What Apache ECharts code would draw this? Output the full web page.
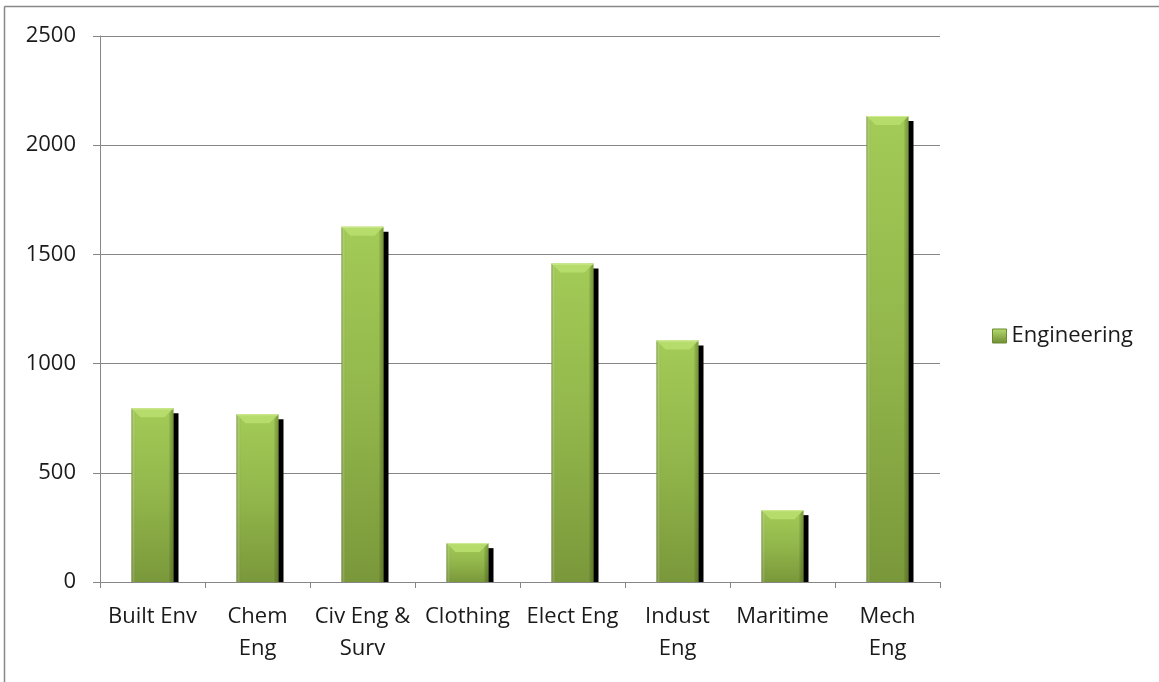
<!DOCTYPE html>
<html>
<head>
<meta charset="utf-8">
<title>Engineering</title>
<script src="https://cdn.jsdelivr.net/npm/echarts@6/dist/echarts.min.js"></script>
<style>
  html, body { margin: 0; padding: 0; background: #fff; }
  #main { width: 1159px; height: 682px; }
</style>
</head>
<body>
<div id="main"></div>
<script>
// data
var categories = ['Built Env', 'Chem\nEng', 'Civ Eng &\nSurv', 'Clothing', 'Elect Eng', 'Indust\nEng', 'Maritime', 'Mech\nEng'];
var values = [795, 768, 1627, 178, 1458, 1106, 329, 2134];
var seriesName = 'Engineering';

var chart = echarts.init(document.getElementById('main'));
var font = 'Open Sans';

// bar body: light green at the top fading to olive at the base
var bodyFill = new echarts.graphic.LinearGradient(0, 0, 0, 1, [
  { offset: 0, color: '#a3cb57' },
  { offset: 0.5, color: '#92b64b' },
  { offset: 1, color: '#7a983a' }
]);
// darker left / right edges laid over the body
var edgeFill = new echarts.graphic.LinearGradient(0, 0, 1, 0, [
  { offset: 0, color: 'rgba(60,80,20,0.45)' },
  { offset: 0.06, color: 'rgba(255,255,255,0.12)' },
  { offset: 0.12, color: 'rgba(0,0,0,0)' },
  { offset: 0.88, color: 'rgba(0,0,0,0)' },
  { offset: 1, color: 'rgba(60,80,20,0.4)' }
]);

function renderBar(params, api) {
  var top = api.coord([api.value(0), api.value(1)]);
  var base = api.coord([api.value(0), 0]);
  var bw = api.size([1, 0])[0] * 0.4;
  var x = top[0] - bw / 2;
  var h = base[1] - top[1];
  var bev = Math.min(9, h / 2);
  return {
    type: 'group',
    children: [
      { type: 'rect', shape: { x: x + bw - 2, y: top[1] + 5, width: 7, height: Math.max(0, h - 5) },
        style: { fill: '#000' } },
      { type: 'rect', shape: { x: x, y: top[1], width: bw, height: h },
        style: { fill: bodyFill } },
      { type: 'rect', shape: { x: x, y: top[1], width: bw, height: h },
        style: { fill: edgeFill } },
      { type: 'polygon', shape: { points: [[x, top[1]], [x + bw, top[1]], [x + bw - bev, top[1] + bev], [x + bev, top[1] + bev]] },
        style: { fill: '#b6dc6c' } },
      { type: 'line', shape: { x1: x, y1: top[1] + 0.5, x2: x + bw, y2: top[1] + 0.5 },
        style: { stroke: '#d2ec95', lineWidth: 1 } }
    ]
  };
}

chart.setOption({
  animation: false,
  textStyle: { fontFamily: font },
  graphic: [
    { type: 'line', shape: { x1: 4.5, y1: 6.5, x2: 1159, y2: 6.5 }, style: { stroke: '#888', lineWidth: 1.5 } },
    { type: 'line', shape: { x1: 4.5, y1: 6.5, x2: 4.5, y2: 682 }, style: { stroke: '#888', lineWidth: 1.5 } }
  ],
  grid: { left: 100, right: 219, top: 36, bottom: 100 },
  legend: {
    orient: 'vertical',
    left: 987,
    top: 320,
    itemWidth: 14,
    itemHeight: 14,
    itemGap: 8,
    textStyle: { fontSize: 22, color: '#1a1a1a', fontFamily: font },
    data: [{ name: seriesName, icon: 'rect', itemStyle: {
      color: new echarts.graphic.LinearGradient(0, 0, 0, 1, [
        { offset: 0, color: '#b6dc6c' }, { offset: 1, color: '#6f8c34' }
      ]),
      borderColor: '#6c8a33', borderWidth: 1 } }]
  },
  xAxis: {
    type: 'category',
    data: categories,
    boundaryGap: true,
    axisLine: { lineStyle: { color: '#868686', width: 1 } },
    axisTick: { show: true, length: 6, lineStyle: { color: '#868686' } },
    axisLabel: { interval: 0, fontSize: 22, lineHeight: 32, margin: 19, color: '#1a1a1a', fontFamily: font }
  },
  yAxis: {
    type: 'value',
    min: 0,
    max: 2500,
    interval: 500,
    axisLine: { show: true, lineStyle: { color: '#868686', width: 1 } },
    axisTick: { show: true, length: 7, lineStyle: { color: '#868686' } },
    splitLine: { lineStyle: { color: '#868686', width: 1 } },
    axisLabel: { fontSize: 22, margin: 24, color: '#1a1a1a', fontFamily: font,
      formatter: function (v) { return String(v); } }
  },
  series: [{
    name: seriesName,
    type: 'custom',
    renderItem: renderBar,
    encode: { x: 0, y: 1 },
    data: values.map(function (v, i) { return [i, v]; })
  }]
});
</script>
</body>
</html>
